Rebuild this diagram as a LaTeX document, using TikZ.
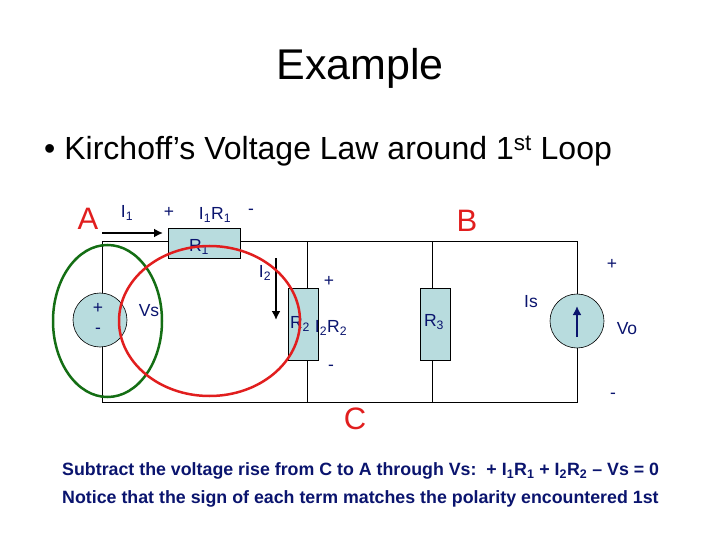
\documentclass[tikz,border=0pt]{standalone}
\usepackage{fontspec}
\setmainfont{Liberation Sans}
\usetikzlibrary{arrows.meta}
\definecolor{boxfill}{RGB}{184,220,222}
\definecolor{navy}{RGB}{10,20,110}
\definecolor{lred}{RGB}{225,30,30}
\definecolor{lgreen}{RGB}{20,110,20}
\begin{document}
\begin{tikzpicture}[x=1pt,y=-1pt,
  wire/.style={draw=black,line width=0.8pt},
  res/.style={draw=black,fill=boxfill,line width=0.6pt},
  lbl/.style={font=\fontsize{17.5}{17.5}\selectfont,text=navy,inner sep=0pt},
  big/.style={font=\fontsize{31}{31}\selectfont,text=lred,inner sep=0pt},
  curr/.style={line width=2.5pt,-{Latex[length=9pt,width=9pt]}},
  bottom/.style={font=\bfseries\fontsize{17.8}{18}\selectfont,text=navy,inner sep=0pt}]
\useasboundingbox (0,0) rectangle (720,540);
% wires
\coordinate (tl) at (102,241); \coordinate (tr) at (577,241);
\coordinate (bl) at (102,402); \coordinate (br) at (577,402);
\draw[wire] (tl) -- (tr) -- (br) -- (bl) -- cycle;
\coordinate (w2t) at (307,241); \coordinate (w2b) at (307,402);
\coordinate (w3t) at (432,241); \coordinate (w3b) at (432,402);
\draw[wire] (w2t) -- (w2b);
\draw[wire] (w3t) -- (w3b);
% resistors
\node[res,minimum width=72pt,minimum height=30pt,inner sep=0pt] (R1) at (204,243) {};
\node[lbl] (r1t) at (199,247) {R\textsubscript{1}};
\node[res,minimum width=30pt,minimum height=72pt,inner sep=0pt] (R2) at (303,324) {};
\node[lbl] (r2t) at (300,324) {R\textsubscript{2}};
\node[res,minimum width=30pt,minimum height=72pt,inner sep=0pt] (R3) at (435,324) {};
\node[lbl] (r3t) at (434,322) {R\textsubscript{3}};
% sources
\node[circle,draw=black,fill=boxfill,minimum size=54pt,inner sep=0pt,line width=0.6pt] (Vs) at (100,320) {};
\node[lbl] (vp) at (98,308) {+};
\node[lbl] (vm) at (98,331) {-};
\node[circle,draw=black,fill=boxfill,minimum size=54pt,inner sep=0pt,line width=0.6pt] (Is) at (577,321) {};
\coordinate (isb) at (577,337); \coordinate (ist) at (577,306);
\draw[line width=2.5pt,navy,-{Latex[length=9pt,width=9pt]}] (isb) -- (ist);
% current arrows
\coordinate (a1) at (102,233); \coordinate (a2) at (163,233);
\draw[curr] (a1) -- (a2);
\coordinate (i2a) at (276,258); \coordinate (i2b) at (276,320);
\draw[curr] (i2a) -- (i2b);
% loops
\draw[lgreen,line width=2.5pt] (107.5,321) ellipse [x radius=54.5,y radius=76];
\draw[lred,line width=2.5pt] (209.5,321) ellipse [x radius=90.5,y radius=75];
% labels
\node[big] (A) at (88,219) {A};
\node[big] (B) at (467,221) {B};
\node[big] (C) at (355,419) {C};
\node[lbl] (l_i1) at (127,213) {I\textsubscript{1}};
\node[lbl] (l_p1) at (169,212) {+};
\node[lbl] (l_v1) at (215,215) {I\textsubscript{1}R\textsubscript{1}};
\node[lbl] (l_m1) at (251,212) {-};
\node[lbl] (l_i2) at (265,273) {I\textsubscript{2}};
\node[lbl] (l_vs) at (149,311) {Vs};
\node[lbl] (l_p2) at (329,281) {+};
\node[lbl] (l_v2) at (331,328) {I\textsubscript{2}R\textsubscript{2}};
\node[lbl] (l_m2) at (331,368) {-};
\node[lbl] (l_p3) at (612,264) {+};
\node[lbl] (l_is) at (531,302) {Is};
\node[lbl] (l_vo) at (627,329) {Vo};
\node[lbl] (l_m3) at (613,396) {-};
% text
\node[font=\fontsize{43}{43}\selectfont,inner sep=0pt] (title) at (360,68) {Example};
\node[font=\fontsize{32}{32}\selectfont,inner sep=0pt,anchor=west] (bul) at (44,151) {•\hspace{9pt}Kirchoff’s Voltage Law around 1\textsuperscript{st} Loop};
\node[bottom,anchor=west] (l1) at (62,471) {Subtract the voltage rise from C to A through Vs:\ \ + I\textsubscript{1}R\textsubscript{1} + I\textsubscript{2}R\textsubscript{2} – Vs = 0};
\node[bottom,anchor=west] (l2) at (62,499) {Notice that the sign of each term matches the polarity encountered 1st};
\end{tikzpicture}
\end{document}
